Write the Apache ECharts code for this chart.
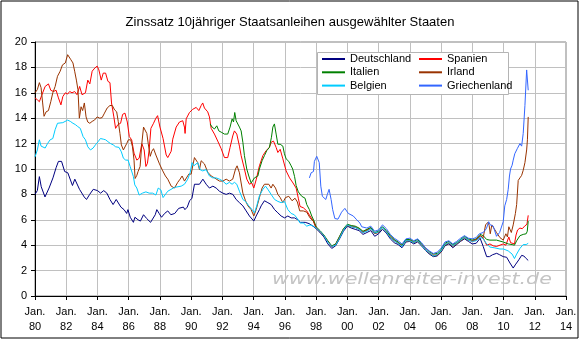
<!DOCTYPE html>
<html>
<head>
<meta charset="utf-8">
<script src="https://cdn.jsdelivr.net/npm/echarts@6/dist/echarts.min.js"></script>
<style>
html,body{margin:0;padding:0;background:#fff;}
#chart{width:580px;height:340px;}
</style>
</head>
<body>
<div id="chart"></div>
<script>
const titleText = 'Zinssatz 10jähriger Staatsanleihen ausgewählter Staaten';
const seriesNames = ['Deutschland', 'Spanien', 'Italien', 'Irland', 'Belgien', 'Griechenland'];
const seriesColors = ['#000080', '#ff0000', '#008000', '#993300', '#00ccff', '#3366ff'];
const watermark = 'www.wellenreiter-invest.de';

const deutschland = [[1980.0,8.0],[1980.15,8.3],[1980.28,9.4],[1980.4,8.6],[1980.64,7.8],[1980.9,8.5],[1981.15,9.3],[1981.35,10.1],[1981.5,10.6],[1981.7,10.6],[1981.9,9.8],[1982.1,9.7],[1982.4,8.7],[1982.55,9.2],[1982.85,8.4],[1983.15,7.8],[1983.3,7.6],[1983.5,8.0],[1983.73,8.4],[1984.0,8.3],[1984.2,8.1],[1984.4,8.3],[1984.6,8.1],[1984.8,7.6],[1985.0,7.2],[1985.2,7.6],[1985.5,7.0],[1985.7,6.8],[1985.87,6.5],[1985.95,6.8],[1986.1,6.2],[1986.3,5.8],[1986.4,6.2],[1986.6,6.0],[1986.75,5.9],[1986.95,6.4],[1987.15,6.1],[1987.4,5.8],[1987.7,6.4],[1987.8,6.8],[1987.95,6.5],[1988.1,6.2],[1988.3,6.5],[1988.5,6.7],[1988.7,6.4],[1988.95,6.5],[1989.2,6.9],[1989.5,7.0],[1989.6,6.8],[1989.75,7.0],[1989.9,7.5],[1990.05,7.7],[1990.21,8.8],[1990.53,8.8],[1990.75,9.2],[1990.96,8.8],[1991.17,8.5],[1991.39,8.65],[1991.6,8.5],[1991.81,8.25],[1992.03,8.1],[1992.24,8.0],[1992.45,8.1],[1992.67,8.0],[1992.88,7.6],[1993.09,7.35],[1993.31,7.1],[1993.52,6.7],[1993.73,6.3],[1994.01,5.9],[1994.16,6.3],[1994.37,6.8],[1994.48,7.1],[1994.69,7.5],[1994.91,7.35],[1995.12,7.2],[1995.34,6.8],[1995.55,6.55],[1995.76,6.3],[1995.98,6.15],[1996.19,6.3],[1996.4,6.15],[1996.62,6.15],[1996.83,6.0],[1997.0,5.8],[1997.3,5.8],[1997.55,5.7],[1997.8,5.5],[1998.0,5.3],[1998.25,5.0],[1998.5,4.65],[1998.75,4.1],[1999.0,3.75],[1999.25,3.95],[1999.5,4.5],[1999.75,5.1],[2000.0,5.5],[2000.25,5.35],[2000.5,5.25],[2000.75,5.15],[2001.0,4.85],[2001.25,5.0],[2001.5,5.15],[2001.75,4.7],[2002.0,4.9],[2002.25,5.25],[2002.5,4.95],[2002.75,4.5],[2003.0,4.2],[2003.25,4.05],[2003.5,3.8],[2003.75,4.25],[2004.0,4.3],[2004.25,4.1],[2004.5,4.25],[2004.75,3.95],[2005.0,3.6],[2005.25,3.3],[2005.5,3.1],[2005.75,3.15],[2006.0,3.45],[2006.25,3.95],[2006.5,4.1],[2006.75,3.8],[2007.0,4.05],[2007.25,4.3],[2007.5,4.5],[2007.75,4.3],[2008.0,4.1],[2008.25,4.15],[2008.5,4.55],[2008.7,3.9],[2008.92,3.1],[2009.1,3.1],[2009.3,3.25],[2009.56,3.36],[2009.75,3.25],[2009.98,3.1],[2010.2,3.05],[2010.41,2.6],[2010.62,2.2],[2010.75,2.45],[2010.98,2.85],[2011.16,3.2],[2011.3,3.15],[2011.45,2.95],[2011.58,2.8]];

const spanien = [[1980.0,15.6],[1980.15,15.45],[1980.28,15.3],[1980.43,15.8],[1980.65,16.5],[1980.86,16.7],[1981.01,16.2],[1981.18,16.1],[1981.35,16.2],[1981.5,15.6],[1981.66,15.05],[1981.78,15.7],[1981.94,16.0],[1982.09,15.9],[1982.22,16.1],[1982.37,16.0],[1982.54,16.1],[1982.69,15.85],[1982.86,16.5],[1983.01,15.85],[1983.23,16.0],[1983.38,17.0],[1983.51,16.7],[1983.66,17.7],[1983.83,17.95],[1983.98,18.1],[1984.09,17.8],[1984.24,17.0],[1984.37,17.55],[1984.52,17.55],[1984.67,16.9],[1984.8,16.8],[1984.9,15.2],[1985.05,14.1],[1985.16,13.2],[1985.31,13.5],[1985.48,13.6],[1985.61,14.3],[1985.76,14.4],[1985.91,13.7],[1986.04,12.55],[1986.19,12.3],[1986.34,11.25],[1986.52,10.7],[1986.67,10.85],[1986.84,12.0],[1986.99,11.5],[1987.1,10.2],[1987.2,10.45],[1987.31,11.5],[1987.42,13.2],[1987.59,13.6],[1987.74,14.0],[1987.85,14.2],[1988.0,13.3],[1988.2,12.4],[1988.4,11.1],[1988.5,10.9],[1988.72,11.4],[1988.82,12.35],[1989.04,13.3],[1989.25,13.7],[1989.46,13.8],[1989.57,13.3],[1989.61,12.8],[1989.68,13.95],[1989.89,14.45],[1990.1,14.7],[1990.32,14.85],[1990.49,14.6],[1990.64,15.0],[1990.74,15.2],[1990.85,14.8],[1991.06,14.5],[1991.17,14.1],[1991.28,13.2],[1991.38,13.1],[1991.49,12.75],[1991.7,12.2],[1991.92,11.6],[1992.13,10.9],[1992.34,10.9],[1992.49,11.7],[1992.66,12.6],[1992.77,13.0],[1992.92,12.75],[1993.09,11.8],[1993.2,11.05],[1993.41,10.0],[1993.56,9.2],[1993.73,8.8],[1993.88,8.9],[1994.01,8.5],[1994.16,9.15],[1994.37,10.25],[1994.59,11.05],[1994.8,11.45],[1995.01,11.7],[1995.12,12.1],[1995.27,12.2],[1995.44,11.7],[1995.55,11.3],[1995.7,11.55],[1995.87,10.8],[1996.08,9.85],[1996.3,9.3],[1996.52,8.9],[1996.72,8.5],[1996.86,7.7],[1996.97,7.05],[1997.18,6.95],[1997.4,6.7],[1997.61,6.3],[1997.82,5.9],[1998.0,5.35],[1998.25,5.1],[1998.5,4.75],[1998.75,4.3],[1999.0,3.9],[1999.25,4.05],[1999.5,4.65],[1999.75,5.25],[2000.0,5.6],[2000.25,5.5],[2000.5,5.45],[2000.75,5.3],[2001.0,5.05],[2001.25,5.2],[2001.5,5.35],[2001.75,4.95],[2002.0,5.05],[2002.25,5.4],[2002.5,5.1],[2002.75,4.65],[2003.0,4.4],[2003.25,4.2],[2003.5,3.95],[2003.75,4.35],[2004.0,4.4],[2004.25,4.2],[2004.5,4.35],[2004.75,4.05],[2005.0,3.7],[2005.25,3.4],[2005.5,3.2],[2005.75,3.25],[2006.0,3.55],[2006.25,4.05],[2006.5,4.2],[2006.75,3.95],[2007.0,4.15],[2007.25,4.4],[2007.5,4.6],[2007.75,4.4],[2008.0,4.3],[2008.25,4.4],[2008.5,4.75],[2008.7,4.55],[2008.92,4.0],[2009.13,4.1],[2009.34,3.95],[2009.55,3.9],[2009.98,4.1],[2010.15,4.0],[2010.34,4.65],[2010.45,4.2],[2010.7,4.1],[2010.8,4.8],[2010.9,5.2],[2011.05,5.35],[2011.2,5.3],[2011.35,5.5],[2011.5,5.65],[2011.58,6.35]];

const italien = [[1991.21,13.55],[1991.34,13.3],[1991.49,13.15],[1991.64,13.4],[1991.77,13.0],[1991.92,12.9],[1992.13,12.75],[1992.34,12.75],[1992.49,13.3],[1992.62,13.95],[1992.71,13.7],[1992.79,14.45],[1992.88,13.8],[1992.99,13.7],[1993.09,13.3],[1993.2,13.0],[1993.31,12.1],[1993.41,11.05],[1993.56,10.0],[1993.69,9.45],[1993.84,8.9],[1993.95,8.8],[1994.05,9.3],[1994.16,9.15],[1994.27,9.45],[1994.37,10.0],[1994.54,10.65],[1994.69,11.05],[1994.84,11.45],[1995.01,11.7],[1995.14,12.5],[1995.23,13.3],[1995.33,13.55],[1995.44,12.75],[1995.55,11.95],[1995.7,11.95],[1995.87,11.8],[1995.97,11.2],[1996.08,10.8],[1996.25,10.6],[1996.4,10.25],[1996.5,10.0],[1996.62,9.4],[1996.72,8.7],[1996.86,8.2],[1997.08,7.85],[1997.29,7.7],[1997.4,7.2],[1997.57,6.8],[1997.72,6.3],[1997.87,5.9],[1998.0,5.45],[1998.25,5.15],[1998.5,4.8],[1998.75,4.35],[1999.0,3.95],[1999.25,4.1],[1999.5,4.7],[1999.75,5.3],[2000.0,5.65],[2000.25,5.55],[2000.5,5.5],[2000.75,5.35],[2001.0,5.1],[2001.25,5.25],[2001.5,5.4],[2001.75,5.0],[2002.0,5.1],[2002.25,5.45],[2002.5,5.15],[2002.75,4.75],[2003.0,4.45],[2003.25,4.25],[2003.5,4.0],[2003.75,4.45],[2004.0,4.45],[2004.25,4.3],[2004.5,4.45],[2004.75,4.1],[2005.0,3.8],[2005.25,3.5],[2005.5,3.3],[2005.75,3.35],[2006.0,3.65],[2006.25,4.15],[2006.5,4.3],[2006.75,4.05],[2007.0,4.2],[2007.25,4.45],[2007.5,4.7],[2007.75,4.5],[2008.0,4.4],[2008.25,4.5],[2008.5,4.85],[2008.7,4.75],[2008.92,4.45],[2009.13,4.4],[2009.55,4.4],[2009.98,4.25],[2010.3,4.1],[2010.55,4.05],[2010.7,4.0],[2010.84,4.35],[2011.05,4.75],[2011.26,4.85],[2011.45,4.9],[2011.52,5.1],[2011.58,5.9]];

const irland = [[1980.0,16.0],[1980.15,16.25],[1980.28,16.8],[1980.39,16.4],[1980.49,15.2],[1980.58,14.15],[1980.71,14.5],[1980.86,14.6],[1981.01,15.3],[1981.14,16.0],[1981.29,16.5],[1981.44,17.3],[1981.61,17.7],[1981.76,18.2],[1981.94,18.35],[1982.09,19.0],[1982.19,19.15],[1982.3,18.6],[1982.43,18.35],[1982.54,17.7],[1982.65,17.0],[1982.75,16.25],[1982.84,14.0],[1982.95,14.9],[1983.05,14.6],[1983.16,15.2],[1983.27,14.1],[1983.38,13.7],[1983.51,13.6],[1983.66,13.75],[1983.81,13.85],[1983.98,14.1],[1984.15,14.0],[1984.3,14.05],[1984.45,14.4],[1984.62,14.8],[1984.8,15.0],[1984.95,15.0],[1985.1,14.65],[1985.23,14.5],[1985.33,13.75],[1985.44,12.8],[1985.53,11.9],[1985.66,11.5],[1985.76,11.6],[1985.87,12.0],[1985.98,12.3],[1986.13,12.3],[1986.24,11.75],[1986.34,10.7],[1986.41,9.25],[1986.52,9.5],[1986.6,9.8],[1986.73,10.2],[1986.84,12.0],[1986.95,13.3],[1987.05,13.4],[1987.16,12.8],[1987.25,12.0],[1987.38,11.0],[1987.48,11.4],[1987.59,11.6],[1987.74,11.1],[1987.85,11.1],[1987.97,10.4],[1988.18,9.85],[1988.35,9.45],[1988.5,9.2],[1988.72,8.65],[1988.93,8.5],[1989.14,8.95],[1989.29,9.2],[1989.42,9.45],[1989.57,9.05],[1989.68,9.2],[1989.85,9.6],[1990.0,9.6],[1990.1,10.25],[1990.21,10.9],[1990.32,10.75],[1990.42,10.5],[1990.53,9.95],[1990.64,10.65],[1990.74,10.75],[1990.85,10.4],[1991.06,9.75],[1991.28,9.45],[1991.49,9.3],[1991.81,9.05],[1992.03,9.05],[1992.24,9.2],[1992.45,9.05],[1992.66,9.2],[1992.84,10.0],[1992.94,10.25],[1993.09,9.7],[1993.2,8.9],[1993.31,8.1],[1993.48,7.5],[1993.63,7.1],[1993.84,6.8],[1994.01,6.3],[1994.16,6.8],[1994.37,7.75],[1994.54,8.5],[1994.69,8.8],[1994.8,8.65],[1994.97,8.8],[1995.12,8.5],[1995.23,8.8],[1995.4,8.5],[1995.55,8.0],[1995.7,7.75],[1995.87,7.35],[1996.04,7.75],[1996.25,7.85],[1996.46,7.5],[1996.65,7.7],[1996.8,7.4],[1996.95,6.7],[1997.18,6.7],[1997.4,6.6],[1997.61,6.15],[1997.82,5.9],[1998.0,5.4],[1998.25,5.1],[1998.5,4.75],[1998.75,4.3],[1999.0,3.9],[1999.25,4.05],[1999.5,4.6],[1999.75,5.25],[2000.0,5.55],[2000.25,5.45],[2000.5,5.4],[2000.75,5.25],[2001.0,5.0],[2001.25,5.15],[2001.5,5.3],[2001.75,4.9],[2002.0,5.0],[2002.25,5.4],[2002.5,5.05],[2002.75,4.6],[2003.0,4.35],[2003.25,4.15],[2003.5,3.95],[2003.75,4.3],[2004.0,4.35],[2004.25,4.2],[2004.5,4.3],[2004.75,4.0],[2005.0,3.65],[2005.25,3.35],[2005.5,3.15],[2005.75,3.2],[2006.0,3.5],[2006.25,4.0],[2006.5,4.15],[2006.75,3.9],[2007.0,4.1],[2007.25,4.35],[2007.5,4.55],[2007.75,4.4],[2008.0,4.35],[2008.25,4.45],[2008.5,4.75],[2008.7,4.6],[2008.85,5.6],[2009.0,5.8],[2009.08,5.55],[2009.15,4.9],[2009.25,5.6],[2009.4,5.3],[2009.55,5.0],[2009.77,4.6],[2009.98,4.4],[2010.15,4.9],[2010.25,4.65],[2010.34,5.45],[2010.5,5.0],[2010.62,5.6],[2010.76,6.5],[2010.84,7.2],[2010.94,9.1],[2011.05,9.3],[2011.16,9.5],[2011.26,9.9],[2011.37,10.5],[2011.48,11.5],[2011.53,12.3],[2011.58,14.1]];

const belgien = [[1980.0,10.95],[1980.15,11.5],[1980.28,12.3],[1980.39,11.8],[1980.49,11.95],[1980.65,11.65],[1980.8,12.0],[1980.97,12.3],[1981.14,12.4],[1981.29,13.1],[1981.44,13.6],[1981.78,13.65],[1982.09,13.85],[1982.26,13.75],[1982.43,13.6],[1982.58,13.5],[1982.73,13.35],[1982.9,13.2],[1983.08,12.55],[1983.23,12.3],[1983.38,11.75],[1983.55,11.5],[1983.72,11.65],[1983.87,11.9],[1984.04,12.15],[1984.19,12.4],[1984.37,12.35],[1984.52,12.3],[1984.67,12.15],[1984.84,12.0],[1985.01,11.9],[1985.16,11.75],[1985.38,11.7],[1985.53,11.35],[1985.66,10.85],[1985.81,10.7],[1985.96,10.7],[1986.09,10.2],[1986.19,10.05],[1986.3,9.4],[1986.39,8.75],[1986.52,8.5],[1986.67,7.95],[1986.88,8.1],[1987.1,8.2],[1987.31,8.1],[1987.53,8.1],[1987.74,7.95],[1987.89,8.5],[1988.06,8.35],[1988.2,7.75],[1988.5,8.25],[1988.93,8.55],[1989.36,8.65],[1989.57,8.8],[1989.78,9.2],[1989.93,9.7],[1990.06,10.5],[1990.17,10.25],[1990.27,10.1],[1990.42,10.5],[1990.57,9.95],[1990.74,9.85],[1990.96,9.95],[1991.17,9.45],[1991.38,9.3],[1991.6,9.3],[1991.81,9.2],[1992.03,9.05],[1992.24,8.8],[1992.45,8.95],[1992.62,8.8],[1992.77,8.95],[1992.92,8.8],[1993.09,8.25],[1993.31,7.6],[1993.48,7.45],[1993.69,7.1],[1993.9,6.8],[1994.05,6.55],[1994.2,7.1],[1994.37,7.9],[1994.59,8.4],[1994.76,8.65],[1994.91,8.4],[1995.12,8.0],[1995.34,7.6],[1995.55,7.45],[1995.76,7.35],[1995.97,7.45],[1996.19,6.8],[1996.4,6.5],[1996.6,6.4],[1996.8,6.1],[1996.97,5.75],[1997.18,5.75],[1997.4,5.5],[1997.61,5.6],[1997.82,5.5],[1998.0,5.35],[1998.25,5.1],[1998.5,4.75],[1998.75,4.25],[1999.0,3.9],[1999.25,4.0],[1999.5,4.55],[1999.75,5.2],[2000.0,5.6],[2000.25,5.45],[2000.5,5.4],[2000.75,5.25],[2001.0,5.0],[2001.25,5.1],[2001.5,5.3],[2001.75,4.95],[2002.0,5.05],[2002.25,5.4],[2002.5,5.05],[2002.75,4.6],[2003.0,4.35],[2003.25,4.15],[2003.5,3.9],[2003.75,4.35],[2004.0,4.35],[2004.25,4.2],[2004.5,4.35],[2004.75,4.0],[2005.0,3.65],[2005.25,3.4],[2005.5,3.15],[2005.75,3.25],[2006.0,3.55],[2006.25,4.05],[2006.5,4.2],[2006.75,3.95],[2007.0,4.15],[2007.25,4.4],[2007.5,4.6],[2007.75,4.4],[2008.0,4.3],[2008.25,4.35],[2008.5,4.65],[2008.7,4.5],[2008.92,4.1],[2009.13,3.85],[2009.4,3.8],[2009.77,3.7],[2010.0,3.7],[2010.3,3.55],[2010.55,3.3],[2010.7,2.95],[2010.84,3.3],[2011.05,3.75],[2011.26,4.05],[2011.45,4.05],[2011.58,4.15]];

const griechenland = [[1997.57,9.3],[1997.68,9.7],[1997.74,9.55],[1997.83,9.8],[1997.89,10.6],[1997.95,10.75],[1998.04,11.0],[1998.14,11.0],[1998.2,10.5],[1998.3,8.65],[1998.4,7.85],[1998.51,7.7],[1998.62,7.6],[1998.72,8.0],[1998.83,8.4],[1998.89,8.3],[1998.96,7.6],[1999.06,6.8],[1999.2,6.1],[1999.4,6.05],[1999.63,6.6],[1999.84,6.9],[2000.06,6.5],[2000.38,6.3],[2000.6,6.0],[2000.8,5.75],[2000.92,5.45],[2001.0,5.3],[2001.25,5.35],[2001.5,5.5],[2001.75,5.1],[2002.0,5.2],[2002.25,5.6],[2002.5,5.3],[2002.75,4.85],[2003.0,4.55],[2003.25,4.35],[2003.5,4.1],[2003.75,4.5],[2004.0,4.55],[2004.25,4.35],[2004.5,4.5],[2004.75,4.2],[2005.0,3.8],[2005.25,3.55],[2005.5,3.35],[2005.75,3.45],[2006.0,3.75],[2006.25,4.25],[2006.5,4.35],[2006.75,4.1],[2007.0,4.3],[2007.25,4.55],[2007.5,4.75],[2007.75,4.55],[2008.0,4.5],[2008.25,4.6],[2008.45,4.9],[2008.7,5.0],[2008.9,5.3],[2009.05,5.85],[2009.15,5.6],[2009.34,5.5],[2009.55,4.7],[2009.75,5.0],[2009.98,5.85],[2010.08,7.1],[2010.2,7.6],[2010.3,8.4],[2010.38,9.45],[2010.45,10.0],[2010.55,10.3],[2010.62,10.7],[2010.72,11.2],[2010.8,11.3],[2010.88,11.6],[2010.98,11.5],[2011.05,12.0],[2011.16,11.8],[2011.26,12.8],[2011.37,15.0],[2011.48,17.8],[2011.54,17.95],[2011.58,16.2]];

const seriesData = [deutschland, spanien, italien, irland, belgien, griechenland];

const chart = echarts.init(document.getElementById('chart'), null, {renderer: 'canvas'});
const font = 'Liberation Sans, Arial, sans-serif';

chart.setOption({
  animation: false,
  backgroundColor: '#ffffff',
  textStyle: {fontFamily: font},
  title: {
    text: titleText,
    left: 'center',
    top: 11,
    textStyle: {fontSize: 13, fontWeight: 'normal', color: '#000', fontFamily: font}
  },
  grid: {
    left: 35, right: 14, top: 42, bottom: 44,
    show: true, borderColor: '#808080', borderWidth: 1, backgroundColor: '#fff'
  },
  xAxis: {
    type: 'value', min: 1980, max: 2014, interval: 2,
    axisLine: {lineStyle: {color: '#000', width: 1}},
    axisTick: {length: 4, lineStyle: {color: '#000'}},
    splitLine: {show: true, lineStyle: {color: '#c0c0c0', width: 1}},
    axisLabel: {
      color: '#000', fontSize: 11, fontFamily: font, lineHeight: 15, margin: 8,
      showMinLabel: true, showMaxLabel: true,
      formatter: v => 'Jan.\n' + String(v % 100).padStart(2, '0')
    }
  },
  yAxis: {
    type: 'value', min: 0, max: 20, interval: 2,
    axisLine: {show: true, lineStyle: {color: '#000', width: 1}},
    axisTick: {show: true, length: 4, lineStyle: {color: '#000'}},
    splitLine: {show: true, lineStyle: {color: '#c0c0c0', width: 1}},
    axisLabel: {color: '#000', fontSize: 11, fontFamily: font, margin: 8}
  },
  legend: [
    {
      data: ['Deutschland', 'Italien', 'Belgien'],
      orient: 'vertical', left: 322, top: 52.5, padding: 0, itemGap: 0.3,
      itemWidth: 23, itemHeight: 2, icon: 'rect', z: 20,
      textStyle: {fontSize: 11, color: '#000', fontFamily: font, lineHeight: 13}
    },
    {
      data: ['Spanien', 'Irland', 'Griechenland'],
      orient: 'vertical', left: 419, top: 52.5, padding: 0, itemGap: 0.3,
      itemWidth: 23, itemHeight: 2, icon: 'rect', z: 20,
      textStyle: {fontSize: 11, color: '#000', fontFamily: font, lineHeight: 13}
    }
  ],
  graphic: [
    {type: 'rect', z: 15, shape: {x: 317.5, y: 52.5, width: 191, height: 42},
     style: {fill: '#fff', stroke: '#b4b4b4', lineWidth: 1}},
    {type: 'text', z: 1, x: 272, y: 280, scaleX: 1.33,
     style: {text: watermark, x: 0, y: 0, fill: '#c4c4c4',
       font: 'italic 15.5px "DejaVu Sans", Verdana, sans-serif', textVerticalAlign: 'middle'}},
    {type: 'rect', z: 30, shape: {x: 1, y: 1, width: 577, height: 337},
     style: {fill: 'none', stroke: '#000', lineWidth: 1}}
  ],
  series: seriesNames.map((name, i) => ({
    name: name,
    type: 'line',
    data: seriesData[i],
    showSymbol: false,
    symbol: 'none',
    color: seriesColors[i],
    lineStyle: {width: 1, color: seriesColors[i]},
    z: 3 + i
  }))
});
</script>
</body>
</html>
